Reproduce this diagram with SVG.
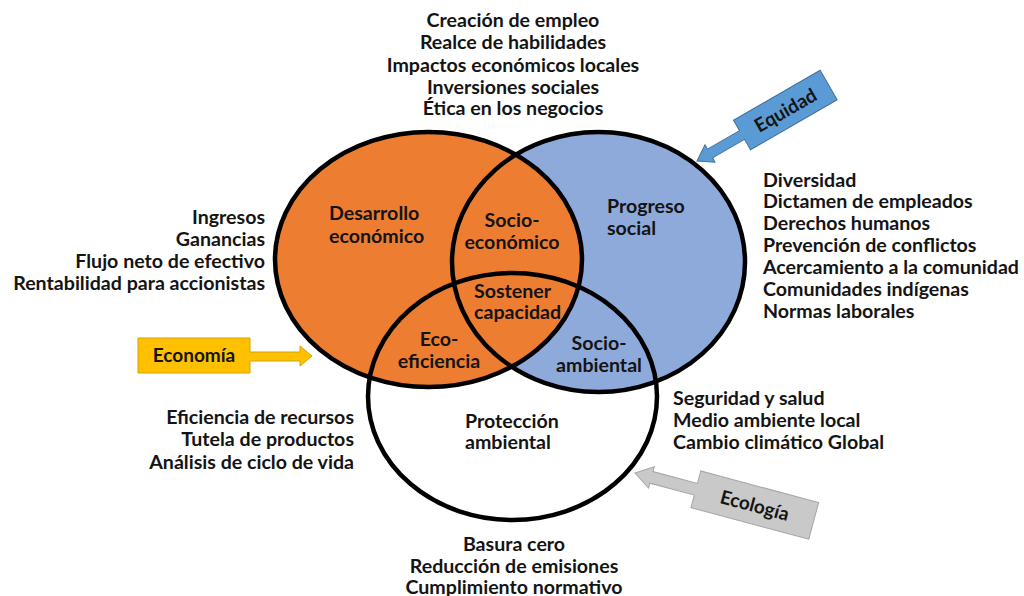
<svg xmlns="http://www.w3.org/2000/svg" width="1024" height="596" viewBox="0 0 1024 596">
<style>
  text { font-family: Lato, "Open Sans", "Liberation Sans", sans-serif; font-weight: 700; font-size: 19.6px; fill: #141414; }
  .c { text-anchor: middle; }
  .r { text-anchor: end; }
  .ring { fill: none; stroke: #000; stroke-width: 4.5; }
  .lbl { font-size: 19px; }
</style>
<rect width="1024" height="596" fill="#fff"/>
<g id="fills">
  <ellipse cx="598.5" cy="262" rx="146.5" ry="130" fill="#8eaadb"/>
  <ellipse cx="428.5" cy="259.5" rx="153.5" ry="127.5" fill="#ed7d31"/>
</g>
<g id="circle-progreso-social">
  <ellipse class="ring" cx="598.5" cy="262" rx="146.5" ry="130"/>
  <text x="607" y="213">Progreso</text>
  <text x="607" y="235">social</text>
</g>
<g id="circle-desarrollo-economico">
  <ellipse class="ring" cx="428.5" cy="259.5" rx="153.5" ry="127.5"/>
  <text x="329" y="220">Desarrollo</text>
  <text x="329" y="243">económico</text>
</g>
<g id="circle-proteccion-ambiental">
  <ellipse class="ring" cx="512.5" cy="396.5" rx="144.5" ry="123.5"/>
  <text x="465" y="428">Protección</text>
  <text x="465" y="449">ambiental</text>
</g>
<g id="region-socio-economico">
  <text class="c" x="512" y="227">Socio-</text>
  <text class="c" x="512" y="249">económico</text>
</g>
<g id="region-sostener-capacidad">
  <text x="474" y="298">Sostener</text>
  <text x="474" y="319">capacidad</text>
</g>
<g id="region-eco-eficiencia">
  <text class="c" x="439" y="346">Eco-</text>
  <text class="c" x="439" y="368">eficiencia</text>
</g>
<g id="region-socio-ambiental">
  <text class="c" x="599" y="350">Socio-</text>
  <text class="c" x="599" y="372">ambiental</text>
</g>
<g id="list-top">
  <text class="c" x="513" y="27">Creación de empleo</text>
  <text class="c" x="513" y="49">Realce de habilidades</text>
  <text class="c" x="513" y="72">Impactos económicos locales</text>
  <text class="c" x="513" y="94">Inversiones sociales</text>
  <text class="c" x="513" y="115">Ética en los negocios</text>
</g>
<g id="list-left">
  <text class="r" x="265" y="224">Ingresos</text>
  <text class="r" x="265" y="246">Ganancias</text>
  <text class="r" x="265" y="268">Flujo neto de efectivo</text>
  <text class="r" x="265" y="290">Rentabilidad para accionistas</text>
</g>
<g id="list-right">
  <text x="763" y="187">Diversidad</text>
  <text x="763" y="208">Dictamen de empleados</text>
  <text x="763" y="230">Derechos humanos</text>
  <text x="763" y="252">Prevención de conflictos</text>
  <text x="763" y="274">Acercamiento a la comunidad</text>
  <text x="763" y="296">Comunidades indígenas</text>
  <text x="763" y="318">Normas laborales</text>
</g>
<g id="list-bottom-left">
  <text class="r" x="354" y="424">Eficiencia de recursos</text>
  <text class="r" x="354" y="446">Tutela de productos</text>
  <text class="r" x="354" y="469">Análisis de ciclo de vida</text>
</g>
<g id="list-bottom-right">
  <text x="673" y="405">Seguridad y salud</text>
  <text x="673" y="427">Medio ambiente local</text>
  <text x="673" y="449">Cambio climático Global</text>
</g>
<g id="list-bottom">
  <text class="c" x="514" y="551">Basura cero</text>
  <text class="c" x="514" y="573">Reducción de emisiones</text>
  <text class="c" x="514" y="594">Cumplimiento normativo</text>
</g>
<g id="connectors">
  <g id="arrow-equidad" transform="translate(697 161) rotate(-30)">
    <path d="M0 0 L15 -10 L15 -5 L52 -5 L52 -17 L152 -17 L152 17 L52 17 L52 5 L15 5 L15 10 Z" fill="#5b9bd5" stroke="#41719c" stroke-width="1"/>
    <text class="c lbl" x="102" y="7">Equidad</text>
  </g>
  <g id="arrow-economia">
    <path d="M138 338 L250 338 L250 352 L300 352 L300 346 L312 356 L300 366 L300 361 L250 361 L250 373 L138 373 Z" fill="#ffc000" stroke="#d6a300" stroke-width="1"/>
    <text class="c lbl" x="194" y="362">Economía</text>
  </g>
  <g id="arrow-ecologia" transform="translate(635 473) rotate(15)">
    <path d="M0 0 L17 -11 L17 -6 L63 -6 L63 -19 L185 -19 L185 19 L63 19 L63 6 L17 6 L17 11 Z" fill="#c9c9c9" stroke="#a5a5a5" stroke-width="1"/>
    <text class="c lbl" x="124" y="7">Ecología</text>
  </g>
</g>
</svg>
